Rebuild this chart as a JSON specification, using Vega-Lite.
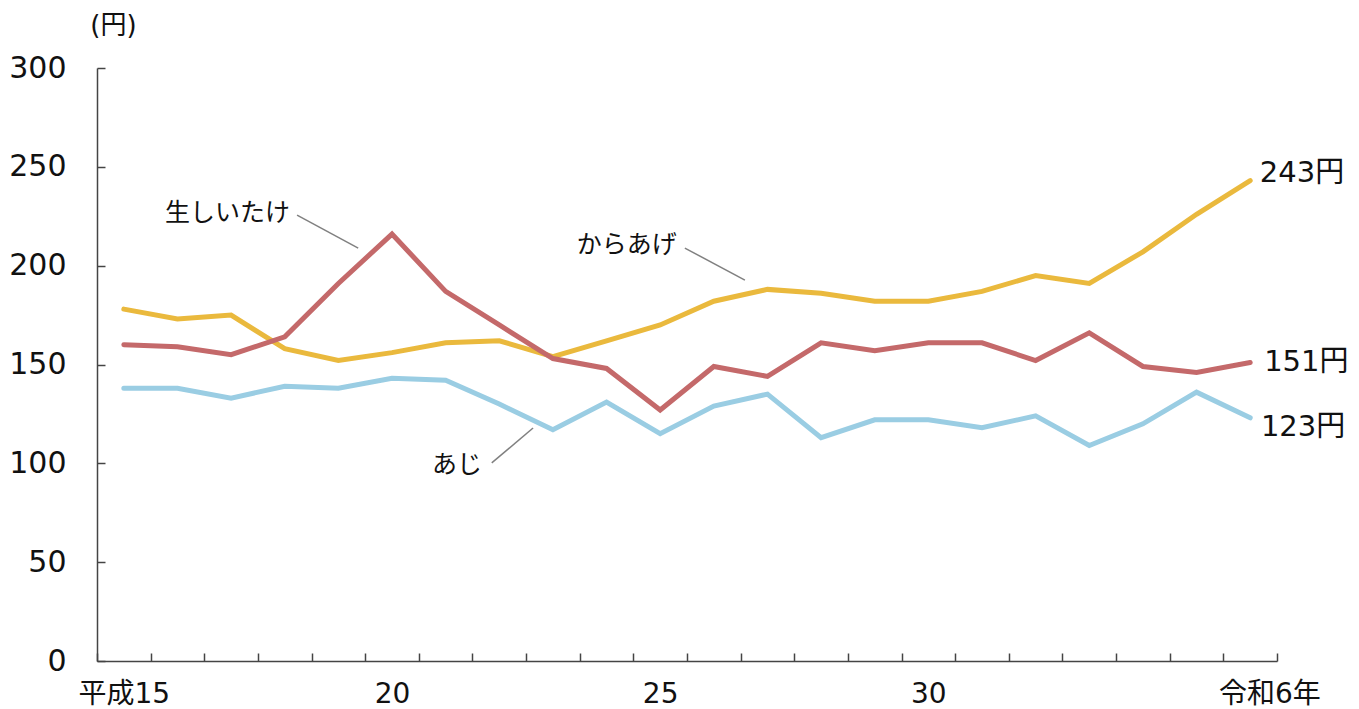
{
  "$schema": "https://vega.github.io/schema/vega-lite/v6.json",
  "width": 1180,
  "height": 593,
  "autosize": "none",
  "padding": {"left": 97, "top": 68, "right": 82, "bottom": 48},
  "background": "white",
  "config": {
    "view": {"stroke": null},
    "font": "DejaVu Sans, Noto Sans CJK JP",
    "axis": {"grid": false, "domainColor": "#444444", "domainWidth": 1.5, "tickColor": "#444444", "tickWidth": 1.5, "labelColor": "#111111", "labelFont": "DejaVu Sans, Noto Sans CJK JP"}
  },
  "datasets": {
    "series": [
      {"year": 2003, "item": "からあげ", "price": 178},
      {"year": 2004, "item": "からあげ", "price": 173},
      {"year": 2005, "item": "からあげ", "price": 175},
      {"year": 2006, "item": "からあげ", "price": 158},
      {"year": 2007, "item": "からあげ", "price": 152},
      {"year": 2008, "item": "からあげ", "price": 156},
      {"year": 2009, "item": "からあげ", "price": 161},
      {"year": 2010, "item": "からあげ", "price": 162},
      {"year": 2011, "item": "からあげ", "price": 154},
      {"year": 2012, "item": "からあげ", "price": 162},
      {"year": 2013, "item": "からあげ", "price": 170},
      {"year": 2014, "item": "からあげ", "price": 182},
      {"year": 2015, "item": "からあげ", "price": 188},
      {"year": 2016, "item": "からあげ", "price": 186},
      {"year": 2017, "item": "からあげ", "price": 182},
      {"year": 2018, "item": "からあげ", "price": 182},
      {"year": 2019, "item": "からあげ", "price": 187},
      {"year": 2020, "item": "からあげ", "price": 195},
      {"year": 2021, "item": "からあげ", "price": 191},
      {"year": 2022, "item": "からあげ", "price": 207},
      {"year": 2023, "item": "からあげ", "price": 226},
      {"year": 2024, "item": "からあげ", "price": 243},
      {"year": 2003, "item": "生しいたけ", "price": 160},
      {"year": 2004, "item": "生しいたけ", "price": 159},
      {"year": 2005, "item": "生しいたけ", "price": 155},
      {"year": 2006, "item": "生しいたけ", "price": 164},
      {"year": 2007, "item": "生しいたけ", "price": 191},
      {"year": 2008, "item": "生しいたけ", "price": 216},
      {"year": 2009, "item": "生しいたけ", "price": 187},
      {"year": 2010, "item": "生しいたけ", "price": 170},
      {"year": 2011, "item": "生しいたけ", "price": 153},
      {"year": 2012, "item": "生しいたけ", "price": 148},
      {"year": 2013, "item": "生しいたけ", "price": 127},
      {"year": 2014, "item": "生しいたけ", "price": 149},
      {"year": 2015, "item": "生しいたけ", "price": 144},
      {"year": 2016, "item": "生しいたけ", "price": 161},
      {"year": 2017, "item": "生しいたけ", "price": 157},
      {"year": 2018, "item": "生しいたけ", "price": 161},
      {"year": 2019, "item": "生しいたけ", "price": 161},
      {"year": 2020, "item": "生しいたけ", "price": 152},
      {"year": 2021, "item": "生しいたけ", "price": 166},
      {"year": 2022, "item": "生しいたけ", "price": 149},
      {"year": 2023, "item": "生しいたけ", "price": 146},
      {"year": 2024, "item": "生しいたけ", "price": 151},
      {"year": 2003, "item": "あじ", "price": 138},
      {"year": 2004, "item": "あじ", "price": 138},
      {"year": 2005, "item": "あじ", "price": 133},
      {"year": 2006, "item": "あじ", "price": 139},
      {"year": 2007, "item": "あじ", "price": 138},
      {"year": 2008, "item": "あじ", "price": 143},
      {"year": 2009, "item": "あじ", "price": 142},
      {"year": 2010, "item": "あじ", "price": 130},
      {"year": 2011, "item": "あじ", "price": 117},
      {"year": 2012, "item": "あじ", "price": 131},
      {"year": 2013, "item": "あじ", "price": 115},
      {"year": 2014, "item": "あじ", "price": 129},
      {"year": 2015, "item": "あじ", "price": 135},
      {"year": 2016, "item": "あじ", "price": 113},
      {"year": 2017, "item": "あじ", "price": 122},
      {"year": 2018, "item": "あじ", "price": 122},
      {"year": 2019, "item": "あじ", "price": 118},
      {"year": 2020, "item": "あじ", "price": 124},
      {"year": 2021, "item": "あじ", "price": 109},
      {"year": 2022, "item": "あじ", "price": 120},
      {"year": 2023, "item": "あじ", "price": 136},
      {"year": 2024, "item": "あじ", "price": 123}
    ],
    "leaders": [
      {"x1": 2006.23, "y1": 225.6, "x2": 2007.37, "y2": 208.9},
      {"x1": 2013.46, "y1": 208.9, "x2": 2014.58, "y2": 192.7},
      {"x1": 2009.86, "y1": 100.2, "x2": 2010.63, "y2": 117.9}
    ],
    "names": [
      {"label": "生しいたけ", "x": 2006.1, "y": 226.6},
      {"label": "からあげ", "x": 2013.31, "y": 210.4},
      {"label": "あじ", "x": 2009.68, "y": 99.2}
    ],
    "ends": [
      {"label": "243円", "x": 2024.18, "y": 246.9},
      {"label": "151円", "x": 2024.26, "y": 151.4},
      {"label": "123円", "x": 2024.2, "y": 118.5}
    ]
  },
  "layer": [
    {
      "data": {"name": "series"},
      "mark": {"type": "line", "strokeWidth": 5, "strokeCap": "round"},
      "encoding": {
        "x": {
          "field": "year", "type": "quantitative",
          "scale": {"domain": [2002.5, 2024.5], "nice": false, "zero": false},
          "axis": {
            "title": null,
            "values": [2002.5, 2003.5, 2004.5, 2005.5, 2006.5, 2007.5, 2008.5, 2009.5, 2010.5, 2011.5, 2012.5, 2013.5, 2014.5, 2015.5, 2016.5, 2017.5, 2018.5, 2019.5, 2020.5, 2021.5, 2022.5, 2023.5, 2024.5],
            "labelExpr": "datum.value == 2002.5 ? '平成15' : datum.value == 2007.5 ? '20' : datum.value == 2012.5 ? '25' : datum.value == 2017.5 ? '30' : datum.value == 2023.5 ? '令和6年' : ''",
            "labelOffset": {"condition": {"test": "datum.value == 2023.5", "value": 46}, "value": 26.8},
            "labelOverlap": false,
            "labelBound": false,
            "labelFlush": false,
            "labelFontSize": 28,
            "labelPadding": 27,
            "tickSize": -8
          }
        },
        "y": {
          "field": "price", "type": "quantitative",
          "scale": {"domain": [0, 300], "nice": false},
          "axis": {
            "values": [0, 50, 100, 150, 200, 250, 300],
            "title": "(円)",
            "titleAngle": 0,
            "titleX": 16,
            "titleY": -43,
            "titleAlign": "center",
            "titleBaseline": "middle",
            "titleFont": "DejaVu Sans, Noto Sans CJK JP",
            "titleFontSize": 26,
            "titleFontWeight": "normal",
            "titleColor": "#111111",
            "labelFontSize": 30,
            "labelPadding": 39,
            "tickSize": -8
          }
        },
        "color": {
          "field": "item", "type": "nominal",
          "scale": {"domain": ["からあげ", "生しいたけ", "あじ"], "range": ["#EAB93D", "#C4696A", "#9ACDE3"]},
          "legend": null
        }
      }
    },
    {
      "data": {"name": "leaders"},
      "mark": {"type": "rule", "color": "#808080", "strokeWidth": 1.5},
      "encoding": {
        "x": {"field": "x1", "type": "quantitative"},
        "x2": {"field": "x2"},
        "y": {"field": "y1", "type": "quantitative"},
        "y2": {"field": "y2"}
      }
    },
    {
      "data": {"name": "names"},
      "mark": {"type": "text", "align": "right", "baseline": "middle", "fontSize": 25, "font": "Noto Sans CJK JP", "color": "#111111"},
      "encoding": {
        "x": {"field": "x", "type": "quantitative"},
        "y": {"field": "y", "type": "quantitative"},
        "text": {"field": "label"}
      }
    },
    {
      "data": {"name": "ends"},
      "mark": {"type": "text", "align": "left", "baseline": "middle", "fontSize": 29, "color": "#111111"},
      "encoding": {
        "x": {"field": "x", "type": "quantitative"},
        "y": {"field": "y", "type": "quantitative"},
        "text": {"field": "label"}
      }
    }
  ]
}
